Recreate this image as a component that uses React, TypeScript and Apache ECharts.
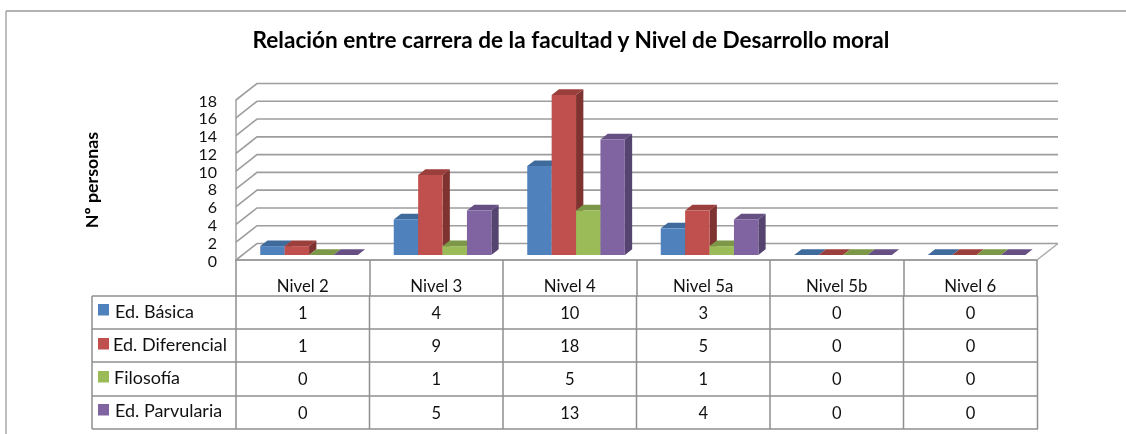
import React, { useEffect, useRef } from "react";
import * as echarts from "echarts";

const categories = ["Nivel 2", "Nivel 3", "Nivel 4", "Nivel 5a", "Nivel 5b", "Nivel 6"];
const seriesNames = ["Ed. Básica", "Ed. Diferencial", "Filosofía", "Ed. Parvularia"];
const edBasica = [1, 4, 10, 3, 0, 0];
const edDiferencial = [1, 9, 18, 5, 0, 0];
const filosofia = [0, 1, 5, 1, 0, 0];
const edParvularia = [0, 5, 13, 4, 0, 0];
const allValues = [edBasica, edDiferencial, filosofia, edParvularia];
const yTicks = [0, 2, 4, 6, 8, 10, 12, 14, 16, 18];
const titleText = "Relación entre carrera de la facultad y Nivel de Desarrollo moral";
const yName = "Nº personas";

const frontColors = ["#4f81bd", "#c0504d", "#9bbb59", "#8064a2"];
const topColors = ["#3f6a9c", "#9b3f3d", "#7d9748", "#664f83"];
const sideColors = ["#365b87", "#7f3331", "#6b813d", "#554370"];

const FONT = "Lato";
const GRID = { left: 236, right: 89, top: 100, bottom: 174 };
const TABLE_LINE = "#8f8f8f";
const WALL_DX = 21;
const WALL_DY = 16.5;
const BAR_W = 24.4;
const BAR_DX = 7.3;
const BAR_DY = 5.7;
const BAR_LIFT = 5;
const GROUP_SHIFT = 6.3;

const rowLines = [296, 329, 362, 396, 429];
const rowLabelCenters = [312, 345, 378, 411];
const rowValueCenters = [313, 346, 379, 413];
const labelLefts = [115, 113, 114, 115];
const keyTops = [304, 338, 371, 404];
const colLines = [236, 369.5, 503, 636.5, 770, 903.5, 1037.5];

function wallRender(params: any, api: any) {
  const v = api.value(0);
  const p = api.coord([0, v]);
  const cs = params.coordSys;
  const x0 = cs.x;
  const y = p[1];
  const right = cs.x + cs.width;
  const children: any[] = [
    { type: "polyline", shape: { points: [[x0, y], [x0 + WALL_DX, y - WALL_DY], [right + WALL_DX, y - WALL_DY]] }, style: { stroke: "#9d9d9d", lineWidth: 1.6, fill: "none" } },
  ];
  if (v === 0) {
    children.push({ type: "line", shape: { x1: right, y1: y, x2: right + WALL_DX, y2: y - WALL_DY }, style: { stroke: "#a8a8a8", lineWidth: 1.4 } });
  }
  return { type: "group", children };
}

function barRender(si: number) {
  return (_: any, api: any) => {
    const c = api.value(0);
    const v = api.value(1);
    const center = api.coord([c, 0])[0] + GROUP_SHIFT;
    const base = api.coord([c, 0])[1] - BAR_LIFT;
    const top = api.coord([c, v])[1] - BAR_LIFT;
    const x = center - 2 * BAR_W + si * BAR_W;
    const r = x + BAR_W;
    return {
      type: "group",
      children: [
        { type: "polygon", shape: { points: [[r, top], [r + BAR_DX, top - BAR_DY], [r + BAR_DX, base - BAR_DY], [r, base]] }, style: { fill: sideColors[si] } },
        { type: "polygon", shape: { points: [[x, top], [x + BAR_DX, top - BAR_DY], [r + BAR_DX, top - BAR_DY], [r, top]] }, style: { fill: topColors[si] } },
        { type: "rect", shape: { x, y: top, width: BAR_W, height: base - top }, style: { fill: frontColors[si] } },
      ],
    };
  };
}

function hLine(x1: number, x2: number, y: number, stroke = TABLE_LINE) {
  return { type: "line", shape: { x1, y1: y, x2, y2: y }, style: { stroke, lineWidth: 1.5 }, silent: true };
}
function vLine(x: number, y1: number, y2: number, stroke = TABLE_LINE) {
  return { type: "line", shape: { x1: x, y1, x2: x, y2 }, style: { stroke, lineWidth: 1.5 }, silent: true };
}

function tableGraphics() {
  const els: any[] = [];
  els.push(hLine(6, 1126, 11, "#9a9a9a"));
  els.push(vLine(6, 11, 434, "#a8a8a8"));
  rowLines.forEach((y) => els.push(hLine(92, 1038, y)));
  els.push(vLine(92, 296, 429));
  colLines.forEach((x) => els.push(vLine(x, 296, 429)));
  seriesNames.forEach((name, i) => {
    els.push({ type: "rect", shape: { x: 98, y: keyTops[i], width: 11, height: 11.5 }, style: { fill: frontColors[i] }, silent: true });
    els.push({ type: "text", x: labelLefts[i], y: rowLabelCenters[i], scaleX: 1.09, style: { text: name, font: `16.5px ${FONT}`, fill: "#111", textAlign: "left", textVerticalAlign: "middle" }, silent: true });
    allValues[i].forEach((val, c) => {
      els.push({ type: "text", x: (colLines[c] + colLines[c + 1]) / 2, y: rowValueCenters[i], style: { text: String(val), font: `16.5px ${FONT}`, fill: "#111", textAlign: "center", textVerticalAlign: "middle" }, silent: true });
    });
  });
  return els;
}

export default function App() {
  const ref = useRef<HTMLDivElement>(null);
  useEffect(() => {
    const chart = echarts.init(ref.current!, undefined, { renderer: "svg" });
    chart.setOption({
      animation: false,
      backgroundColor: "#fff",
      title: {
        text: titleText,
        left: 566,
        top: 23,
        textAlign: "center",
        textStyle: { fontFamily: FONT, fontSize: 22.6, fontWeight: "bold", color: "#000" },
      },
      grid: GRID,
      xAxis: {
        type: "category",
        data: categories,
        axisLine: { show: true, lineStyle: { color: "#a0a0a0", width: 2 } },
        axisTick: { show: true, length: 36, lineStyle: { color: TABLE_LINE, width: 1.5 } },
        axisLabel: { margin: 17, fontFamily: FONT, fontSize: 16.8, color: "#111" },
      },
      yAxis: {
        type: "value",
        min: 0,
        max: 18,
        interval: 2,
        name: yName,
        nameLocation: "middle",
        nameGap: 136,
        nameTextStyle: { fontFamily: FONT, fontSize: 17.8, fontWeight: "bold", color: "#000" },
        axisLine: { show: true, lineStyle: { color: "#a0a0a0", width: 1.5 } },
        axisTick: { show: false },
        splitLine: { show: false },
        axisLabel: { margin: 19, fontFamily: FONT, fontSize: 16, lineHeight: 15, showMinLabel: true, showMaxLabel: true, color: "#111" },
      },
      graphic: tableGraphics(),
      series: [
        { type: "custom", name: "wall", renderItem: wallRender, data: yTicks.map((t) => [t]), encode: { y: 0 }, silent: true, z: 1 },
        ...seriesNames.map((name, si) => ({
          type: "custom",
          name,
          renderItem: barRender(si),
          data: allValues[si].map((v, c) => [c, v]),
          encode: { x: 0, y: 1 },
          z: 2 + si,
        })),
      ],
    });
    return () => chart.dispose();
  }, []);
  return <div ref={ref} style={{ position: "fixed", left: 0, top: 0, width: 1126, height: 434, filter: "blur(0.35px)" }} />;
}
